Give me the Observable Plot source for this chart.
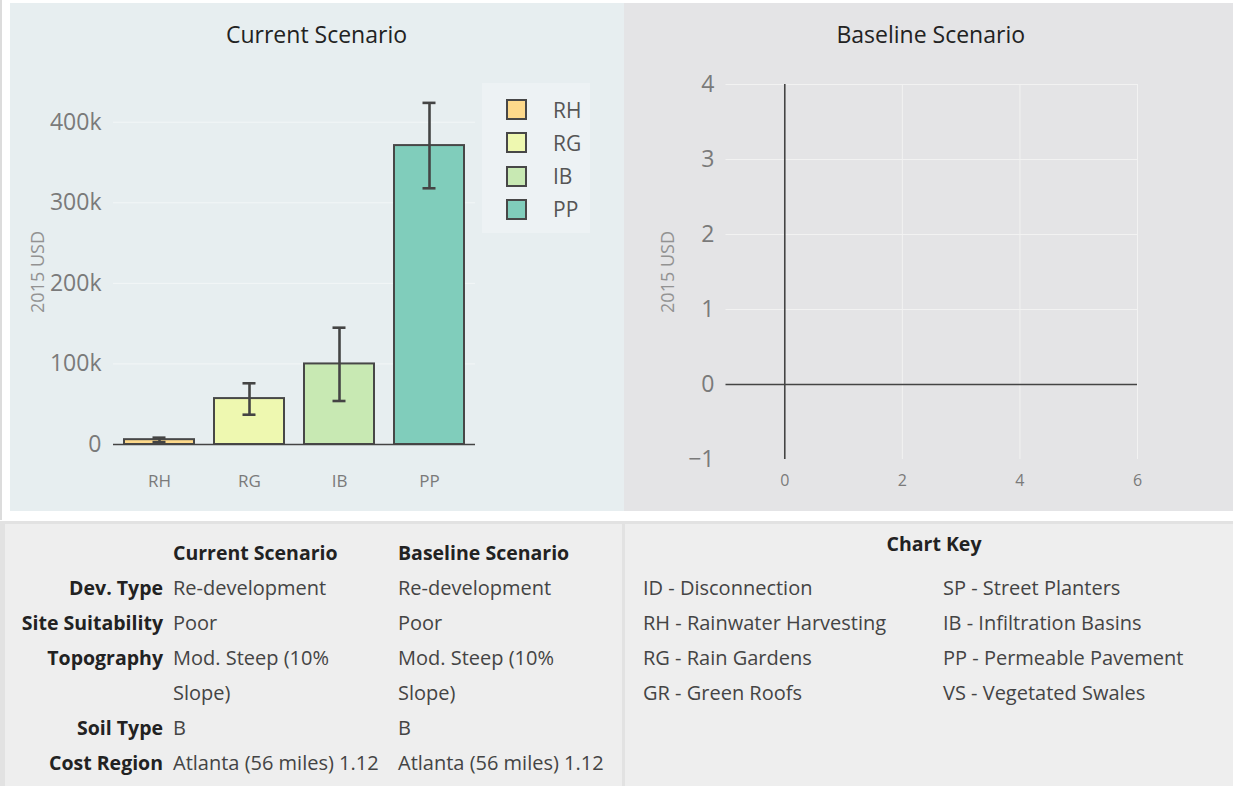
<!DOCTYPE html>
<html><head><meta charset="utf-8">
<script src="https://cdn.jsdelivr.net/npm/d3@7"></script>
<script src="https://cdn.jsdelivr.net/npm/@observablehq/plot@0.6"></script>
<style>
body{margin:0;background:#fff;font-family:"Open Sans","Noto Sans",sans-serif;}
#root{position:relative;width:1233px;height:786px;overflow:hidden;background:#fff;}
.abs{position:absolute;}
.panel svg{overflow:visible;}
</style></head><body><div id="root"></div>
<script>
// ---- data ----
const categories = ["RH", "RG", "IB", "PP"];
const costs = [6000, 57000, 100000, 371000];
const errLow = [3000, 37000, 54000, 318000];
const errHigh = [8500, 76000, 145000, 424000];
const barColors = ["#fdd98b", "#eef8b0", "#c8e9b3", "#80cdbb"];
const yTicksCurrent = [0, 100000, 200000, 300000, 400000];
const yTicksBaseline = [-1, 0, 1, 2, 3, 4];
const xTicksBaseline = [0, 2, 4, 6];
const yDomainCurrent = [-18600, 446800];
const xDomainBaseline = [-1, 6];
const yDomainBaseline = [-1, 4];
const axisTitle = "2015 USD";
const titles = ["Current Scenario", "Baseline Scenario"];
const summaryLabels = ["Dev. Type", "Site Suitability", "Topography", "Soil Type", "Cost Region"];
const currentValues = ["Re-development", "Poor", "Mod. Steep (10%\nSlope)", "B", "Atlanta (56 miles) 1.12"];
const baselineValues = ["Re-development", "Poor", "Mod. Steep (10%\nSlope)", "B", "Atlanta (56 miles) 1.12"];
const keyTitle = "Chart Key";
const keyLeft = ["ID - Disconnection", "RH - Rainwater Harvesting", "RG - Rain Gardens", "GR - Green Roofs"];
const keyRight = ["SP - Street Planters", "IB - Infiltration Basins", "PP - Permeable Pavement", "VS - Vegetated Swales"];

// ---- layout helpers ----
const root = document.getElementById("root");
function box(left, top, width, height, css) {
  const d = document.createElement("div");
  d.className = "abs";
  Object.assign(d.style, {left: left + "px", top: top + "px", width: width + "px", height: height + "px"}, css || {});
  root.appendChild(d);
  return d;
}
const FONT = "Open Sans, Noto Sans, sans-serif";
const minusFormat = d => d < 0 ? "\u2212" + (-d) : String(d);

// backgrounds
box(0, 0, 2, 520, {background: "#dcdcdc"});
const leftPanel = box(10, 3, 614, 508, {background: "#e7eef0"});
leftPanel.classList.add("panel");
const rightPanel = box(624, 3, 609, 508, {background: "#e4e4e6"});
rightPanel.classList.add("panel");
box(0, 521, 1233, 265, {background: "#e2e2e2"});
const bottomLeft = box(5, 524, 617, 262, {background: "#eeeeee"});
const bottomRight = box(625, 524, 608, 262, {background: "#eeeeee"});

// ---- current scenario chart ----
const bars = categories.map((c, i) => ({cat: c, value: costs[i], lo: errLow[i], hi: errHigh[i]}));
const leftChart = Plot.plot({
  width: 614, height: 508,
  marginTop: 81, marginBottom: 52, marginLeft: 103, marginRight: 149,
  style: {background: "transparent", fontFamily: FONT, overflow: "visible"},
  x: {domain: categories, paddingInner: 0.22, paddingOuter: 0.11, axis: null},
  y: {domain: yDomainCurrent, axis: null},
  color: {domain: categories, range: barColors},
  marks: [
    Plot.gridY(yTicksCurrent.filter(d => d > 0), {stroke: "#ffffff", strokeOpacity: 0.5, strokeWidth: 1}),
    Plot.barY(bars, {x: "cat", y: "value", fill: "cat", stroke: "#474747", strokeWidth: 2}),
    Plot.ruleY([0], {stroke: "#444", strokeWidth: 1.6}),
    Plot.ruleX(bars, {x: "cat", y1: "lo", y2: "hi", stroke: "#444", strokeWidth: 2.6}),
    Plot.tickY(bars, {x: "cat", y: "lo", stroke: "#444", strokeWidth: 2.6, insetLeft: 28.5, insetRight: 28.5}),
    Plot.tickY(bars, {x: "cat", y: "hi", stroke: "#444", strokeWidth: 2.6, insetLeft: 28.5, insetRight: 28.5}),
    Plot.axisY(yTicksCurrent, {tickSize: 0, tickPadding: 12, fontSize: 23, fill: "#7a7a7a", label: null,
      tickFormat: d => d === 0 ? "0" : d / 1000 + "k"}),
    Plot.axisX({tickSize: 0, tickPadding: 15, fontSize: 17, fill: "#7a7a7a", label: null}),
    Plot.text([axisTitle], {frameAnchor: "left", textAnchor: "middle", rotate: -90, dx: -75, fontSize: 18, fill: "#929292"}),
    Plot.text([titles[0]], {frameAnchor: "top", textAnchor: "middle", lineAnchor: "middle", dx: 22, dy: -49, fontSize: 23, fill: "#222"})
  ]
});
leftPanel.appendChild(leftChart);

// legend (built from categories / colours)
const legend = box(482, 83, 108, 150, {background: "rgba(255,255,255,0.28)"});
const legendCenters = [26.5, 59.7, 93, 126];
categories.forEach((c, i) => {
  const sw = document.createElement("div");
  sw.className = "abs";
  Object.assign(sw.style, {left: "24px", top: (legendCenters[i] - 10.5) + "px", width: "17px", height: "17px",
    background: barColors[i], border: "2px solid #474747"});
  legend.appendChild(sw);
  const t = document.createElement("div");
  t.className = "abs";
  t.textContent = c;
  Object.assign(t.style, {left: "71px", top: (legendCenters[i] - 14) + "px", height: "28px", lineHeight: "28px",
    fontSize: "21px", color: "#555", fontFamily: FONT});
  legend.appendChild(t);
});

// ---- baseline scenario chart ----
const rightChart = Plot.plot({
  width: 609, height: 508,
  marginTop: 81, marginBottom: 52, marginLeft: 101.5, marginRight: 96,
  style: {background: "transparent", fontFamily: FONT, overflow: "visible"},
  x: {domain: xDomainBaseline, axis: null},
  y: {domain: yDomainBaseline, axis: null},
  marks: [
    Plot.gridY(yTicksBaseline.filter(d => d > 0), {stroke: "#f2f2f2", strokeOpacity: 1, strokeWidth: 1}),
    Plot.gridX(xTicksBaseline.filter(d => d > 0), {stroke: "#f2f2f2", strokeOpacity: 1, strokeWidth: 1}),
    Plot.ruleY([0], {stroke: "#444", strokeWidth: 1.6}),
    Plot.ruleX([0], {stroke: "#444", strokeWidth: 1.6}),
    Plot.axisY(yTicksBaseline, {tickSize: 0, tickPadding: 11.5, fontSize: 23, fill: "#7a7a7a", label: null, tickFormat: minusFormat}),
    Plot.axisX(xTicksBaseline, {tickSize: 0, tickPadding: 15, fontSize: 16, fill: "#7a7a7a", label: null, tickFormat: minusFormat}),
    Plot.text([axisTitle], {frameAnchor: "left", textAnchor: "middle", rotate: -90, dx: -58, fontSize: 18, fill: "#929292"}),
    Plot.text([titles[1]], {frameAnchor: "top", textAnchor: "middle", lineAnchor: "middle", dx: -1, dy: -49, fontSize: 23, fill: "#222"})
  ]
});
rightPanel.appendChild(rightChart);

// ---- summary table ----
const LH = 35;
function cell(parent, text, left, top, width, align, bold) {
  const d = document.createElement("div");
  d.className = "abs";
  d.textContent = text;
  Object.assign(d.style, {left: left + "px", top: top + "px", width: width + "px", textAlign: align,
    fontSize: bold ? "19.5px" : "20px", lineHeight: LH + "px", whiteSpace: "pre", fontFamily: FONT,
    fontWeight: bold ? "700" : "400", color: bold ? "#222" : "#444"});
  parent.appendChild(d);
}
const tableTop = 534.5 - 524;
cell(bottomLeft, titles[0], 168, tableTop, 230, "left", true);
cell(bottomLeft, titles[1], 393, tableTop, 230, "left", true);
let rowTop = tableTop + LH;
summaryLabels.forEach((lab, i) => {
  cell(bottomLeft, lab, 0, rowTop, 158, "right", true);
  cell(bottomLeft, currentValues[i], 168, rowTop, 225, "left", false);
  cell(bottomLeft, baselineValues[i], 393, rowTop, 225, "left", false);
  rowTop += LH * currentValues[i].split("\n").length;
});

// ---- chart key ----
cell(bottomRight, keyTitle, 0, 543 - 17.5 - 524, 618, "center", true);
keyLeft.forEach((t, i) => cell(bottomRight, t, 18, 587 - 17.5 - 524 + i * LH, 290, "left", false));
keyRight.forEach((t, i) => cell(bottomRight, t, 318, 587 - 17.5 - 524 + i * LH, 290, "left", false));
</script>
</body></html>
